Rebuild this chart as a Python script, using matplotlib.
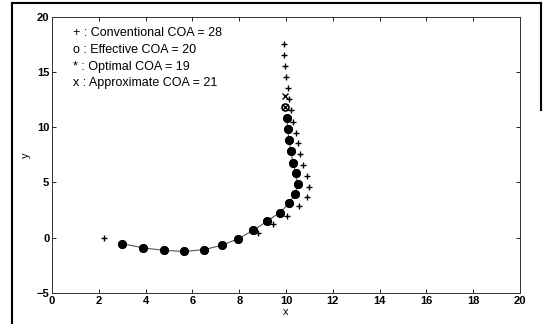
import matplotlib
matplotlib.use('Agg')
import matplotlib.pyplot as plt
from matplotlib.lines import Line2D

# optimal trajectory (19 points)
opt_x = [3.0, 3.9, 4.8, 5.65, 6.5, 7.25, 7.96, 8.6, 9.17, 9.74, 10.13, 10.38,
         10.5, 10.41, 10.3, 10.2, 10.13, 10.07, 10.03]
opt_y = [-0.54, -0.93, -1.15, -1.25, -1.08, -0.69, -0.09, 0.66, 1.47, 2.28, 3.12, 3.96,
         4.86, 5.83, 6.8, 7.86, 8.83, 9.88, 10.87]
# effective (20) and approximate (21) add points at the end
eff_x = opt_x + [9.97]
eff_y = opt_y + [11.83]
app_x = eff_x + [9.96]
app_y = eff_y + [12.79]

# conventional trajectory (28 points)
conv_x = [2.22, 3.0, 3.9, 4.8, 5.65, 6.5, 7.25, 7.96, 8.6, 8.8, 9.45, 10.06, 10.56, 10.88,
          10.98, 10.91, 10.71, 10.6, 10.5, 10.41, 10.31, 10.2, 10.14, 10.07, 10.0,
          9.96, 9.93, 9.91]
conv_y = [0.0, -0.54, -0.93, -1.15, -1.25, -1.08, -0.69, -0.09, 0.66, 0.45, 1.26, 2.0, 2.88,
          3.67, 4.62, 5.59, 6.55, 7.54, 8.53, 9.52, 10.48, 11.53, 12.52, 13.54, 14.53,
          15.52, 16.55, 17.54]

labels = ['+ : Conventional COA = 28',
          'o : Effective COA = 20',
          '* : Optimal COA = 19',
          'x : Approximate COA = 21']

plt.rcParams['font.family'] = ['Liberation Sans', 'DejaVu Sans']

fig = plt.figure(figsize=(5.48, 3.24), dpi=100)
ax = fig.add_axes([0.095, 0.096, 0.854, 0.852])

ax.plot(opt_x, opt_y, '-', color='#555555', lw=0.8)
ax.plot(conv_x, conv_y, '+', color='black', ms=4, mew=1.0, ls='none')
ax.plot(app_x, app_y, 'x', color='black', ms=4, mew=1.0, ls='none')
ax.plot(eff_x, eff_y, 'o', mfc='none', mec='black', ms=5, mew=1.2, ls='none')
ax.plot(opt_x, opt_y, 'o', color='black', ms=5.5, ls='none')
ax.plot(opt_x, opt_y, '*', color='black', ms=6, ls='none')

for i, t in enumerate(labels):
    ax.text(0.9, 18.5 - 1.5 * i, t, fontsize=9, va='center', ha='left')

ax.set_xlim(0, 20)
ax.set_ylim(-5, 20)
ax.set_xticks(range(0, 21, 2))
ax.set_yticks(range(-5, 21, 5))
ax.tick_params(direction='in', length=3, width=0.6, top=True, right=True,
               labelsize=8, pad=2)
for lab in ax.get_xticklabels() + ax.get_yticklabels():
    lab.set_fontweight('bold')
for s in ax.spines.values():
    s.set_linewidth(0.7)
    s.set_color('#333333')

ax.set_xlabel('x', fontsize=8, labelpad=1)
ax.set_ylabel('y', fontsize=8, labelpad=4)

# scanned page frame
fig.add_artist(Line2D([12/548, 12/548], [0, 1 - 3/324], color='black', lw=1.5))
fig.add_artist(Line2D([12/548, 541/548], [1 - 3/324, 1 - 3/324], color='black', lw=1.5))
fig.add_artist(Line2D([541/548, 541/548], [1 - 3/324, 1 - 110/324], color='black', lw=1.5))

fig.savefig('out.png', dpi=100)
